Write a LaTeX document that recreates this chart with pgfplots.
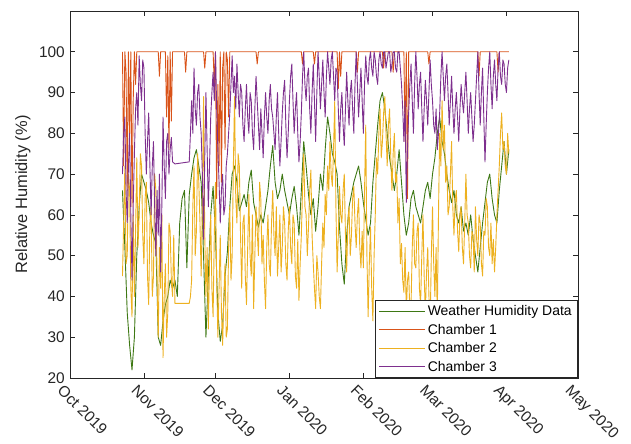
\documentclass[border=0pt]{standalone}
\usepackage{fontspec}
\setmainfont{Liberation Sans}
\usepackage{pgfplots}
\pgfplotsset{compat=1.18}
\definecolor{cgreen}{RGB}{62,120,20}
\definecolor{cone}{rgb}{0.850,0.325,0.098}
\definecolor{ctwo}{rgb}{0.929,0.694,0.125}
\definecolor{cthree}{rgb}{0.494,0.184,0.556}
\definecolor{axgray}{rgb}{0.15,0.15,0.15}
\pgfplotsset{legend image code/.code={\draw[#1] (0bp,0bp) -- (46bp,0bp);}}
\begin{document}
\begin{tikzpicture}
\begin{axis}[
  scale only axis,
  width=508bp, height=367bp,
  xmin=0, xmax=213, ymin=20, ymax=110,
  xtick={0,31,61,92,123,152,183,213},
  xticklabels={Oct 2019,Nov 2019,Dec 2019,Jan 2020,Feb 2020,Mar 2020,Apr 2020,May 2020},
  ytick={20,30,...,100},
  tick align=inside,
  major tick length=5bp,
  axis line style={draw=axgray, line width=0.6bp},
  tick style={draw=axgray, line width=0.6bp},
  /pgf/number format/assume math mode=true,
  ticklabel style={font=\fontsize{15.5}{17}\selectfont, text=axgray},
  xticklabel style={rotate=-45, anchor=north west, inner sep=1bp, xshift=-1bp, yshift=-7bp},
  yticklabel style={inner sep=1bp, xshift=-4bp},
  ylabel={Relative Humidity (\%)},
  ylabel style={font=\fontsize{16.5}{18}\selectfont, text=axgray, yshift=4bp},
  legend style={at={(1,0)}, anchor=south east, draw=axgray, line width=0.6bp,
    font=\fontsize{14}{16}\selectfont, text=black, row sep=3bp, inner xsep=4bp, inner ysep=3bp},
  legend cell align=left,
  every axis plot/.append style={line width=0.9bp, line join=round},
]
% Weather humidity (days since 1 Oct 2019)
\addplot[cgreen] coordinates {
(22,66)(23,52)(24,36)(25,28)(26,22)(27,30)(28,50)(29,62)(30,70)(31,68)(32,66)(33,63)(34,58)(35,55)(36,53)
(37,30)(38,28)(39,34)(40,38)(41,40)(42,44)(43,42)(44,44)(45,40)(46,58)(47,64)(48,66)(49,47)(50,65)(51,70)
(52,74)(53,76)(54,72)(55,68)(56,50)(57,30)(58,45)(59,60)(60,67)(61,55)(62,36)(63,29)(64,33)(65,45)(66,51)
(67,62)(68,70)(69,72)(70,68)(71,61)(72,63)(73,65)(74,62)(75,68)(76,71)(77,63)(78,60)(79,57)(80,60)(81,58)
(82,62)(83,66)(84,72)(85,77)(86,68)(87,64)(88,66)(89,70)(90,66)(91,63)(92,60)(93,64)(94,67)(95,62)(96,55)
(97,66)(98,78)(99,72)(100,65)(101,60)(102,64)(103,56)(104,62)(105,70)(106,66)(107,76)(108,84)(109,80)(110,75)
(111,73)(112,70)(113,57)(114,48)(115,43)(116,55)(117,62)(118,65)(119,68)(120,70)(121,72)(122,68)(123,63)
(124,59)(125,55)(126,58)(127,68)(128,75)(129,82)(130,88)(131,90)(132,86)(133,80)(134,74)(135,70)(136,66)
(137,70)(138,76)(139,68)(140,60)(141,55)(142,58)(143,64)(144,66)(145,62)(146,60)(147,58)(148,62)(149,66)
(150,68)(151,64)(152,70)(153,74)(154,80)(155,84)(156,78)(157,75)(158,70)(159,66)(160,63)(161,66)(162,60)
(163,58)(164,62)(165,56)(166,58)(167,55)(168,60)(169,54)(170,50)(171,46)(172,52)(173,58)(174,63)(175,68)
(176,70)(177,64)(178,60)(179,58)(180,66)(181,72)(182,78)(183,70)(184,76)
};
\addlegendentry{Weather Humidity Data}
% Chamber 1
\addplot[cone] coordinates {
(22,100)(22.5,72)(23,100)(23.5,95)(24,66)(24.5,100)(25,80)(25.5,100)(26,62)(26.5,88)(27,100)(27.5,92)(28,100)
(37,100)(37.5,94)(38,100)(40,100)(40.5,84)(41,99)(41.5,76)(42,100)(42.5,83)(43,100)(48,100)(48.5,95)(49,100)
(56,100)(56.5,96)(57,100)(60,100)(60.5,92)(61,100)(61.5,64)(62,92)(62.5,72)(63,100)(63.5,68)(64,96)(64.5,100)
(65,76)(65.5,100)(66,98)(66.5,84)(67,100)(78,100)(78.5,97)(79,100)(97,100)(97.5,97)(98,100)(102,100)(102.5,97)
(103,100)(112,100)(112.5,91)(113,100)(113.5,94)(114,100)(120,100)(120.5,95)(121,100)(131,100)(131.5,96)(132,100)
(135,100)(135.5,95)(136,100)(140,100)(140.5,78)(141,100)(141.5,64)(142,100)(150,100)(150.5,97)(151,100)
(171,100)(171.5,94)(172,100)(179,100)(179.5,95)(180,100)(184,100)
};
\addlegendentry{Chamber 1}
% Chamber 2
\addplot[ctwo] coordinates {
(22,45)(22.5,58)(23,72)(23.5,48)(24,50)(24.5,70)(25,66)(25.5,42)(26,35)(26.5,60)(27,40)(27.5,56)(28,74)(28.5,52)
(29,60)(29.5,75)(30,72)(30.5,55)(31,48)(31.5,64)(32,68)(32.5,45)(33,38)(33.5,58)(34,62)(34.5,40)(35,45)(35.5,70)
(36,66)(36.5,45)(37,30)(37.5,52)(38,42)(38.5,60)(39,25)(39.5,40)(40,48)(40.5,30)(41,36)(41.5,58)(42,56)(42.5,44)
(43,40)(43.5,55)(44,38.3)(50,38.3)(50.5,40)(51,44)(51.5,62)(52,72)(52.5,50)(53,56)(53.5,75)(54,68)(54.5,58)
(55,45)(55.5,62)(56,89)(56.5,55)(57,40)(57.5,52)(58,32)(58.5,48)(59,60)(59.5,42)(60,35)(60.5,55)(61,68)(61.5,44)
(62,30)(62.5,42)(63,55)(63.5,36)(64,28)(64.5,40)(65,48)(65.5,30)(66,32)(66.5,52)(67,62)(67.5,44)(68,50)(68.5,72)
(69,89)(69.5,64)(70,58)(70.5,75)(71,72)(71.5,55)(72,42)(72.5,58)(73,60)(73.5,45)(74,38)(74.5,52)(75,65)(75.5,50)
(76,45)(76.5,60)(77,37)(77.5,50)(78,62)(78.5,56)(79,50)(79.5,68)(80,64)(80.5,48)(81,55)(81.5,44)(82,37)(82.5,52)
(83,60)(83.5,48)(84,45)(84.5,58)(85,66)(85.5,55)(86,50)(86.5,62)(87,45)(87.5,52)(88,60)(88.5,46)(89,52)(89.5,62)
(90,58)(90.5,48)(91,44)(91.5,56)(92,62)(92.5,52)(93,48)(93.5,60)(94,58)(94.5,45)(95,42)(95.5,54)(96,39)(96.5,48)
(97,55)(97.5,66)(98,75)(98.5,62)(99,60)(99.5,50)(100,57)(100.5,66)(101,71)(101.5,55)(102,48)(102.5,42)(103,37)
(103.5,50)(104,46)(104.5,40)(105,37)(105.5,48)(106,58)(106.5,52)(107,65)(107.5,60)(108,72)(108.5,66)(109,78)
(109.5,70)(110,67)(110.5,76)(111,88)(111.5,62)(112,46)(112.5,55)(113,67)(113.5,60)(114,58)(114.5,66)(115,70)
(115.5,55)(116,46)(116.5,58)(117,62)(117.5,50)(118,55)(118.5,64)(119,67)(119.5,58)(120,52)(120.5,60)(121,64)
(121.5,52)(122,47)(122.5,56)(123,47)(123.5,66)(124,82)(124.5,50)(125,35)(125.5,48)(126,57)(126.5,42)(127,34)
(127.5,50)(128,60)(128.5,74)(129,70)(129.5,80)(130,86)(130.5,74)(131,78)(131.5,85)(132,89)(132.5,80)(133,72)
(133.5,82)(134,86)(134.5,74)(135,66)(135.5,75)(136,80)(136.5,68)(137,70)(137.5,58)(138,64)(138.5,48)(139,53)
(139.5,44)(140,41)(140.5,52)(141,36)(141.5,44)(142,46)(142.5,36)(143,38)(143.5,52)(144,60)(144.5,48)(145,47)
(145.5,56)(146,58)(146.5,42)(147,38)(147.5,50)(148,60)(148.5,45)(149,36)(149.5,46)(150,52)(150.5,40)(151,33)
(151.5,50)(152,62)(152.5,48)(153,40)(153.5,52)(154,35)(154.5,60)(155,80)(155.5,72)(156,88)(156.5,76)(157,82)
(157.5,68)(158,72)(158.5,60)(159,62)(159.5,70)(160,78)(160.5,62)(161,55)(161.5,64)(162,66)(162.5,56)(163,51)
(163.5,60)(164,62)(164.5,52)(165,48)(165.5,58)(166,70)(166.5,60)(167,58)(167.5,50)(168,47)(168.5,56)(169,55)
(169.5,46)(170,62)(170.5,54)(171,50)(171.5,60)(172,58)(172.5,48)(173,45)(173.5,56)(174,55)(174.5,64)(175,62)
(175.5,52)(176,50)(176.5,58)(177,48)(177.5,54)(178,46)(178.5,52)(179,60)(179.5,66)(180,72)(180.5,80)(181,85)
(181.5,76)(182,78)(182.5,72)(183,70)(183.5,80)(184,75)
};
\addlegendentry{Chamber 2}
% Chamber 3
\addplot[cthree] coordinates {
(22,70)(22.5,80)(23,84)(23.5,66)(24,58)(24.5,72)(25,80)(25.5,60)(26,44)(26.5,62)(27,75)(27.5,86)(28,90)(28.5,82)
(29,99)(29.5,92)(30,88)(30.5,98)(31,96)(31.5,80)(32,70)(32.5,78)(33,85)(33.5,72)(34,60)(34.5,72)(35,78)(35.5,62)
(36,50)(36.5,66)(37,55)(37.5,70)(38,46)(38.5,62)(39,84)(39.5,72)(40,64)(40.5,78)(41,80)(41.5,70)(42,76)(42.5,79)
(43,73)(44,72.5)(50,73)(50.5,80)(51,88)(51.5,80)(52,96)(52.5,86)(53,82)(53.5,90)(54,92)(54.5,84)(55,80)(55.5,70)
(56,54)(56.5,74)(57,90)(57.5,76)(58,62)(58.5,72)(59,84)(59.5,90)(60,95)(60.5,88)(61,100)(61.5,86)(62,76)(62.5,68)
(63,58)(63.5,66)(64,70)(64.5,60)(65,62)(65.5,72)(66,75)(66.5,80)(67,85)(67.5,92)(68,99)(68.5,90)(69,94)(69.5,86)
(70,97)(70.5,90)(71,84)(71.5,92)(72,90)(72.5,82)(73,78)(73.5,86)(74,92)(74.5,84)(75,80)(75.5,90)(76,88)(76.5,80)
(77,76)(77.5,86)(78,94)(78.5,88)(79,82)(79.5,76)(80,86)(80.5,80)(81,74)(81.5,84)(82,90)(82.5,84)(83,80)(83.5,88)
(84,92)(84.5,86)(85,84)(85.5,80)(86,76)(86.5,84)(87,90)(87.5,80)(88,72)(88.5,78)(89,85)(89.5,90)(90,93)(90.5,82)
(91,74)(91.5,80)(92,88)(92.5,94)(93,97)(93.5,88)(94,80)(94.5,86)(95,90)(95.5,80)(96,73)(96.5,78)(97,85)(97.5,94)
(98,100)(98.5,92)(99,88)(99.5,94)(100,96)(100.5,86)(101,80)(101.5,90)(102,97)(102.5,88)(103,78)(103.5,90)(104,100)
(104.5,94)(105,86)(105.5,92)(106,98)(106.5,90)(107,84)(107.5,94)(108,100)(108.5,96)(109,92)(109.5,98)(110,100)
(110.5,94)(111,88)(111.5,96)(112,95)(112.5,86)(113,78)(113.5,86)(114,90)(114.5,82)(115,77)(115.5,86)(116,95)
(116.5,88)(117,82)(117.5,90)(118,93)(118.5,86)(119,80)(119.5,92)(120,100)(120.5,92)(121,84)(121.5,90)(122,96)
(122.5,88)(123,80)(123.5,92)(124,99)(124.5,94)(125,92)(125.5,98)(126,100)(126.5,96)(127,94)(127.5,100)(128,98)
(128.5,94)(129,92)(129.5,98)(130,100)(130.5,97)(131,96)(131.5,100)(132,100)(132.5,96)(133,98)(133.5,100)(134,100)
(134.5,95)(135,97)(135.5,100)(136,100)(136.5,96)(137,95)(137.5,100)(138,100)(138.5,96)(139,92)(139.5,86)(140,78)
(140.5,88)(141,63)(141.5,76)(142,85)(142.5,92)(143,97)(143.5,88)(144,80)(144.5,92)(145,100)(145.5,94)(146,86)
(146.5,92)(147,95)(147.5,86)(148,78)(148.5,86)(149,93)(149.5,88)(150,82)(150.5,90)(151,98)(151.5,92)(152,88)
(152.5,82)(153,80)(153.5,86)(154,76)(154.5,80)(155,85)(155.5,94)(156,100)(156.5,94)(157,88)(157.5,94)(158,97)
(158.5,90)(159,82)(159.5,88)(160,94)(160.5,86)(161,80)(161.5,86)(162,90)(162.5,84)(163,78)(163.5,86)(164,92)
(164.5,88)(165,85)(165.5,90)(166,95)(166.5,88)(167,80)(167.5,86)(168,90)(168.5,84)(169,78)(169.5,82)(170,88)
(170.5,94)(171,100)(171.5,90)(172,82)(172.5,90)(173,96)(173.5,84)(174,73)(174.5,82)(175,90)(175.5,96)(176,100)
(176.5,92)(177,86)(177.5,94)(178,98)(178.5,92)(179,88)(179.5,96)(180,100)(180.5,94)(181,92)(181.5,98)(182,97)
(182.5,92)(183,90)(183.5,96)(184,98)
};
\addlegendentry{Chamber 3}
\end{axis}
\pgfresetboundingbox
\path ([shift={(-70bp,-66bp)}]current axis.south west) rectangle ([shift={(561bp,378bp)}]current axis.south west);
\end{tikzpicture}
\end{document}
